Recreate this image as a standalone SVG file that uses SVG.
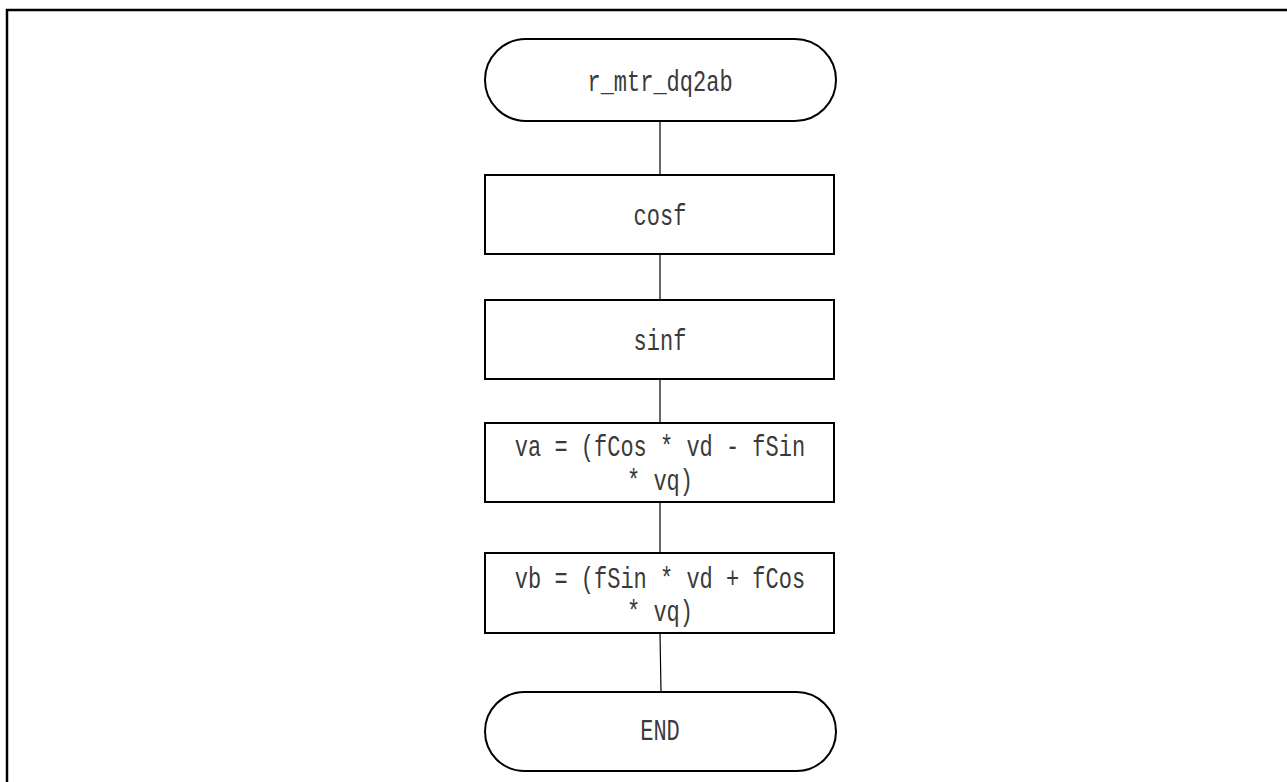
<svg xmlns="http://www.w3.org/2000/svg" width="1287" height="782" viewBox="0 0 1287 782">
<style>
.frame{fill:none;stroke:#000;stroke-width:2.5}
.box{fill:#fff;stroke:#000;stroke-width:2}
.conn{fill:none;stroke:#000;stroke-width:1.2}
.lbl{font-family:"Liberation Mono","DejaVu Sans Mono",monospace;font-size:22px;fill:#3a3a3a;text-anchor:middle;dominant-baseline:central}
</style>
<rect width="1287" height="782" fill="#fff"/>
<rect class="frame" x="7" y="10" width="1300" height="800"/>
<g id="connectors">
<line class="conn" x1="660" y1="121" x2="660" y2="175"/>
<line class="conn" x1="660" y1="254" x2="660" y2="300"/>
<line class="conn" x1="660" y1="379" x2="660" y2="423"/>
<line class="conn" x1="660" y1="502" x2="660" y2="553"/>
<line class="conn" x1="660" y1="633" x2="661" y2="692" stroke="#444"/>
</g>
<g id="start">
<rect class="box" x="485" y="39" width="351" height="82" rx="41" ry="41"/>
<text class="lbl" transform="translate(660,84) scale(1,1.3)">r_mtr_dq2ab</text>
</g>
<g id="cosf">
<rect class="box" x="485" y="175" width="349" height="79"/>
<text class="lbl" transform="translate(660,218) scale(1,1.3)">cosf</text>
</g>
<g id="sinf">
<rect class="box" x="485" y="300" width="349" height="79"/>
<text class="lbl" transform="translate(660,343) scale(1,1.3)">sinf</text>
</g>
<g id="va">
<rect class="box" x="485" y="423" width="349" height="79"/>
<text class="lbl" transform="translate(660,449) scale(1,1.3)">va = (fCos * vd - fSin</text>
<text class="lbl" transform="translate(660,483) scale(1,1.3)">* vq)</text>
</g>
<g id="vb">
<rect class="box" x="485" y="553" width="349" height="80"/>
<text class="lbl" transform="translate(660,581) scale(1,1.3)">vb = (fSin * vd + fCos</text>
<text class="lbl" transform="translate(660,614) scale(1,1.3)">* vq)</text>
</g>
<g id="end">
<rect class="box" x="485" y="692" width="351" height="79" rx="39.5" ry="39.5"/>
<text class="lbl" transform="translate(660,733) scale(1,1.3)">END</text>
</g>
</svg>
